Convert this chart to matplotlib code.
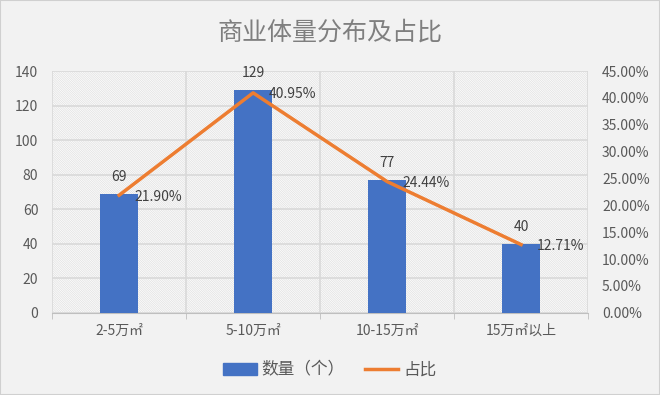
import numpy as np
import matplotlib.pyplot as plt
from matplotlib.patches import Rectangle

plt.rcParams['font.family'] = ['Noto Sans CJK SC', 'DejaVu Sans']
plt.rcParams['hatch.linewidth'] = 0.6

categories = ['2-5万㎡', '5-10万㎡', '10-15万㎡', '15万㎡以上']
counts = [69, 129, 77, 40]
shares = [0.2190, 0.4095, 0.2444, 0.1271]

bar_color = '#4472C4'
line_color = '#ED7D31'
grid_color = '#D9D9D9'
tick_color = '#595959'

fig = plt.figure(figsize=(6.6, 3.95), dpi=100)
fig.patch.set_facecolor('#F2F2F2')
fig.patches.append(Rectangle((0, 0), 1, 1, transform=fig.transFigure,
                             fill=False, edgecolor='#D0D0D0', linewidth=1.5))

ax = fig.add_axes([0.079, 0.208, 0.812, 0.612])
ax.set_facecolor('white')
ax.add_patch(Rectangle((0, 0), 1, 1, transform=ax.transAxes, facecolor='white',
                       edgecolor='#E2E2E2', hatch='\\' * 15, linewidth=0, zorder=0))

x = np.arange(len(categories))
ax.bar(x, counts, width=0.28, color=bar_color, zorder=3)
ax.set_xlim(-0.5, len(categories) - 0.5)
ax.set_ylim(0, 140)
ax.set_yticks(range(0, 141, 20))
ax.set_xticks(x)
ax.set_xticklabels(categories)
ax.set_xticks(np.arange(-0.5, len(categories), 1), minor=True)

ax.grid(True, axis='y', color=grid_color, linewidth=1.2, zorder=1)
ax.grid(True, axis='x', which='minor', color=grid_color, linewidth=1.2, zorder=1)
ax.set_axisbelow(True)
for s in ['top', 'left', 'right']:
    ax.spines[s].set_visible(False)
ax.spines['bottom'].set_color('#BFBFBF')
ax.tick_params(axis='y', length=0, labelsize=10, colors=tick_color, pad=10)
ax.tick_params(axis='x', which='major', length=0, labelsize=10, colors=tick_color, pad=8)
ax.tick_params(axis='x', which='minor', length=4, color='#BFBFBF')

for xi, v in zip(x, counts):
    ax.annotate(str(v), (xi, v), xytext=(0, 7), textcoords='offset points',
                ha='center', va='bottom', fontsize=10, color='#404040', zorder=5)

ax2 = ax.twinx()
ax2.plot(x, shares, color=line_color, linewidth=2.5, zorder=4)
ax2.set_ylim(0, 0.45)
ax2.set_yticks(np.arange(0, 0.451, 0.05))
ax2.set_yticklabels([f'{t * 100:.2f}%' for t in np.arange(0, 0.451, 0.05)])
for s in ['top', 'left', 'right', 'bottom']:
    ax2.spines[s].set_visible(False)
ax2.tick_params(axis='y', length=0, labelsize=10, colors=tick_color, pad=10)

for xi, v in zip(x, shares):
    ax2.annotate(f'{v * 100:.2f}%', (xi, v), xytext=(11, -1), textcoords='offset points',
                 ha='left', va='center', fontsize=10, color='#404040', zorder=5)

fig.text(0.5, 0.917, '商业体量分布及占比', ha='center', va='center',
         fontsize=18, color='#7F7F7F')

h1 = Rectangle((0, 0), 1, 1, color=bar_color)
h2 = plt.Line2D([0], [0], color=line_color, linewidth=2.5)
fig.legend([h1, h2], ['数量（个）', '占比'], loc='center', bbox_to_anchor=(0.5, 0.063),
           ncol=2, frameon=False, fontsize=12, handlelength=2.0, columnspacing=1.2,
           handletextpad=0.3, labelcolor=tick_color)

fig.savefig('out.png', dpi=100, facecolor=fig.get_facecolor())
